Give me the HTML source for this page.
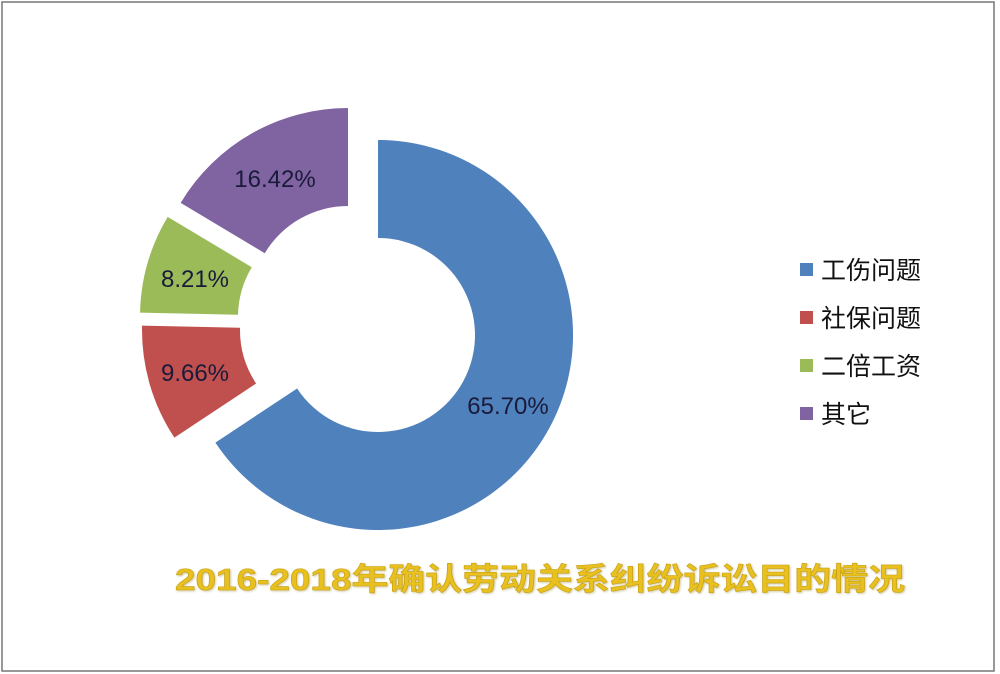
<!DOCTYPE html>
<html><head><meta charset="utf-8"><style>
html,body{margin:0;padding:0;background:#fff;}
svg{display:block;}
</style></head><body>
<svg width="1000" height="674" viewBox="0 0 1000 674" xmlns="http://www.w3.org/2000/svg">
<rect x="2" y="2" width="992" height="669" fill="#fff" stroke="#777" stroke-width="1.5"/>
<path d="M378,140 A195,195 0 1 1 215.4,442.6 L297.1,388.5 A97,97 0 1 0 378,238 Z" fill="#4f81bd"/>
<path transform="translate(-41,-5)" d="M215.4,442.6 A195,195 0 0 1 183.05,330.58 L281.03,332.8 A97,97 0 0 0 297.1,388.5 Z" fill="#c0504d"/>
<path transform="translate(-43,-18)" d="M183.05,330.58 A195,195 0 0 1 210.67,234.87 L294.76,285.19 A97,97 0 0 0 281.03,332.8 Z" fill="#9bbb59"/>
<path transform="translate(-30,-32)" d="M210.67,234.87 A195,195 0 0 1 378,140 L378,238 A97,97 0 0 0 294.76,285.19 Z" fill="#8064a2"/>
<g font-family="Liberation Sans, sans-serif" font-size="24" fill="#1a1a3a" text-anchor="middle">
<text x="275" y="187">16.42%</text>
<text x="195" y="287">8.21%</text>
<text x="195" y="381">9.66%</text>
<text x="508" y="414">65.70%</text>
</g>
<g font-family="Liberation Sans, 'Noto Sans CJK SC', sans-serif" font-size="25" fill="#111">
<rect x="800" y="263" width="13" height="13" fill="#4f81bd"/>
<text x="821" y="279">工伤问题</text>
<rect x="800" y="311" width="13" height="13" fill="#c0504d"/>
<text x="821" y="327">社保问题</text>
<rect x="800" y="359" width="13" height="13" fill="#9bbb59"/>
<text x="821" y="375">二倍工资</text>
<rect x="800" y="407" width="13" height="13" fill="#8064a2"/>
<text x="821" y="423">其它</text>
</g>
<text x="175" y="590" font-family="Liberation Sans, 'Noto Sans CJK SC', sans-serif" font-size="31" font-weight="bold" fill="#e8c020" stroke="#c9a010" stroke-width="0.6" textLength="730" lengthAdjust="spacingAndGlyphs" style="filter:drop-shadow(1px 1px 1px rgba(120,100,0,0.35))">2016-2018年确认劳动关系纠纷诉讼目的情况</text>
</svg>
</body></html>
